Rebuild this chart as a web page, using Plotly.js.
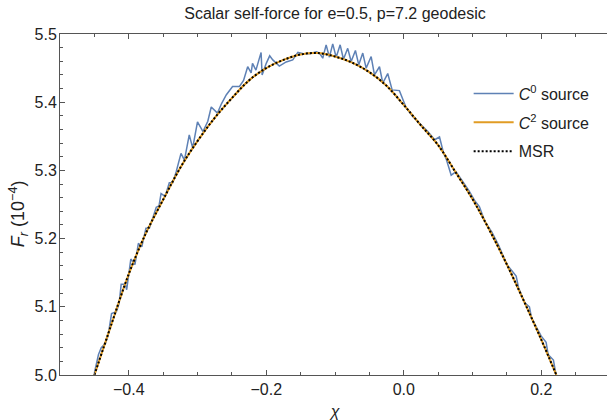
<!DOCTYPE html>
<html>
<head>
<meta charset="utf-8">
<script src="https://cdn.plot.ly/plotly-3.0.1.min.js"></script>
<style>
html,body{margin:0;padding:0;overflow:hidden;background:#fff;}
#chart{width:610px;height:420px;}
</style>
</head>
<body>
<div id="chart"></div>
<script>
// Smooth curves (C2 source and MSR)
const chiSmooth = [-0.45,-0.425,-0.40,-0.375,-0.35,-0.325,-0.30,-0.275,-0.25,-0.225,-0.20,-0.175,-0.15,-0.125,-0.10,-0.075,-0.05,-0.025,0.0,0.025,0.05,0.075,0.10,0.125,0.15,0.175,0.20,0.222];
const c2Values = [5.000,5.075,5.148,5.208,5.257,5.304,5.343,5.377,5.406,5.432,5.450,5.462,5.470,5.472,5.467,5.458,5.444,5.424,5.396,5.366,5.337,5.298,5.258,5.212,5.162,5.108,5.052,5.000];
const msrValues = [5.000,5.075,5.148,5.208,5.257,5.304,5.343,5.377,5.406,5.432,5.450,5.462,5.470,5.472,5.467,5.458,5.444,5.424,5.396,5.366,5.337,5.298,5.258,5.212,5.162,5.108,5.052,5.000];

// Noisy C0 source curve
const chiC0 = [-0.450,-0.444,-0.440,-0.434,-0.430,-0.425,-0.418,-0.414,-0.411,-0.405,-0.403,-0.397,-0.391,-0.386,-0.381,-0.375,-0.370,-0.365,-0.360,-0.356,-0.353,-0.347,-0.341,-0.336,-0.331,-0.324,-0.319,-0.312,-0.307,-0.300,-0.292,-0.285,-0.280,-0.271,-0.265,-0.258,-0.249,-0.239,-0.233,-0.227,-0.222,-0.220,-0.215,-0.2075,-0.206,-0.200,-0.195,-0.1905,-0.181,-0.171,-0.1615,-0.154,-0.146,-0.137,-0.127,-0.1226,-0.1178,-0.1129,-0.1081,-0.1033,-0.0983,-0.0925,-0.0877,-0.0815,-0.0765,-0.0703,-0.0654,-0.0596,-0.0547,-0.0474,-0.0426,-0.0353,-0.0305,-0.0233,-0.0169,-0.0063,0.0035,0.013,0.020,0.035,0.045,0.052,0.058,0.062,0.069,0.076,0.085,0.095,0.103,0.110,0.118,0.128,0.138,0.150,0.1635,0.167,0.176,0.1828,0.186,0.200,0.2071,0.210,0.2177,0.2215];
const c0Values = [5.003,5.030,5.040,5.046,5.058,5.090,5.093,5.105,5.133,5.133,5.125,5.170,5.162,5.193,5.188,5.215,5.215,5.232,5.246,5.248,5.266,5.262,5.282,5.282,5.298,5.325,5.315,5.352,5.333,5.371,5.357,5.372,5.393,5.384,5.398,5.411,5.423,5.423,5.432,5.452,5.443,5.457,5.447,5.473,5.440,5.457,5.468,5.462,5.453,5.459,5.462,5.473,5.471,5.471,5.474,5.472,5.4645,5.4841,5.466,5.4855,5.466,5.4841,5.463,5.479,5.4597,5.4758,5.4548,5.472,5.450,5.467,5.440,5.452,5.428,5.442,5.418,5.417,5.392,5.379,5.372,5.357,5.345,5.349,5.325,5.316,5.293,5.298,5.285,5.270,5.256,5.247,5.225,5.210,5.190,5.162,5.145,5.128,5.106,5.100,5.083,5.057,5.048,5.030,5.022,5.000];

const seriesNames = ['<i>C</i><sup>0</sup> source','<i>C</i><sup>2</sup> source','MSR'];
const yTitle = '<i>F</i><sub><i>r</i></sub> (10<sup>−4</sup>)';

const traces = [
  {x: chiC0, y: c0Values, name: seriesNames[0], mode: 'lines', legendgroup: 'a',
   line: {color: '#5E81B5', width: 1.5}},
  {x: chiSmooth, y: c2Values, name: seriesNames[1], mode: 'lines', legendgroup: 'b',
   line: {color: '#E19C24', width: 2, shape: 'spline'}},
  {x: chiSmooth, y: msrValues, name: seriesNames[2], mode: 'lines', legendgroup: 'c',
   line: {color: '#000000', width: 2, dash: '2px,2px', shape: 'spline'}}
];

const axisCommon = {
  showline: true, linecolor: '#555', linewidth: 1,
  ticks: 'inside', ticklen: 5, tickcolor: '#555', tickwidth: 1,
  showgrid: false, zeroline: false,
  tickfont: {family: 'Liberation Sans, Arial, sans-serif', size: 16, color: '#222'}
};

const layout = {
  width: 610, height: 420,
  margin: {l: 60, r: 0, t: 34, b: 45},
  paper_bgcolor: '#fff', plot_bgcolor: '#fff',
  font: {family: 'Liberation Sans, Arial, sans-serif', color: '#222'},
  title: {text: 'Scalar self-force for e=0.5, p=7.2 geodesic',
          font: {size: 16, color: '#222'}, x: 0.5, xref: 'paper',
          y: 1 - 13/420, yref: 'container', yanchor: 'middle'},
  xaxis: Object.assign({}, axisCommon, {
    mirror: 'allticks',
    range: [-0.5, 0.3], tick0: 0, dtick: 0.2, tickformat: '.1f',
    minor: {ticks: 'inside', ticklen: 3, dtick: 0.05, tick0: 0, tickcolor: '#555'},
    title: {text: '<i>χ</i>', font: {size: 16, color: '#222'}, standoff: 17}
  }),
  yaxis: Object.assign({}, axisCommon, {
    mirror: false,
    range: [5.0, 5.5], tick0: 5.0, dtick: 0.1, tickformat: '.1f',
    ticklabelstandoff: -1,
    minor: {ticks: 'inside', ticklen: 3, dtick: 0.02, tick0: 5.0, tickcolor: '#555'}
  }),
  annotations: [{
    text: yTitle, textangle: -90, showarrow: false,
    xref: 'paper', yref: 'paper',
    x: (18 - 60) / 550, y: (374.7 - 214) / 340.7,
    xanchor: 'center', yanchor: 'middle',
    font: {size: 18, color: '#222'}
  }],
  showlegend: true,
  legend: {x: 0.743, y: 0.875, xanchor: 'left', yanchor: 'top', itemwidth: 40,
           bgcolor: 'rgba(0,0,0,0)', borderwidth: 0, tracegroupgap: 5,
           font: {size: 16, color: '#222'}}
};

Plotly.newPlot('chart', traces, layout, {staticPlot: true, displayModeBar: false});
</script>
</body>
</html>
